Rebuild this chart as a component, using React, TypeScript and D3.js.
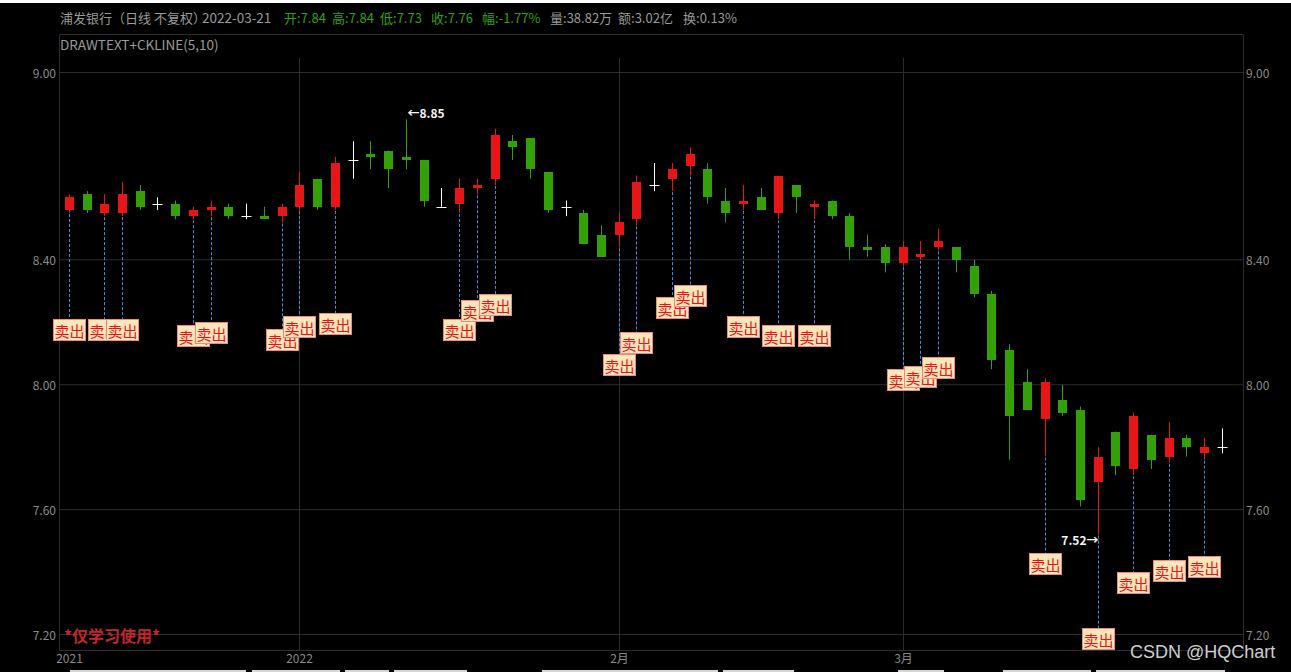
import * as d3 from "d3";
import React, { useEffect } from "react";

// header info (bar under cursor)
const stockName = "浦发银行（日线 不复权）";
const barDate = "2022-03-21";
const infoLabels = ["开", "高", "低", "收", "幅", "量", "额", "换"];
const infoValues = ["7.84", "7.84", "7.73", "7.76", "-1.77%", "38.82万", "3.02亿", "0.13%"];
const indicatorTitle = "DRAWTEXT+CKLINE(5,10)";

// daily K line
const opens = [
  8.56, 8.61, 8.55, 8.55, 8.62, 8.58, 8.58, 8.54, 8.56, 8.57, 8.54, 8.54, 8.54, 8.57, 8.66, 8.57, 8.72,
  8.74, 8.75, 8.73, 8.72, 8.57, 8.58, 8.63, 8.66, 8.78, 8.79, 8.68, 8.57, 8.55, 8.48, 8.48, 8.53, 8.64,
  8.66, 8.70, 8.69, 8.59, 8.58, 8.60, 8.55, 8.64, 8.57, 8.59, 8.54, 8.44, 8.44, 8.39, 8.41, 8.44, 8.44,
  8.38, 8.29, 8.11, 8.01, 7.89, 7.95, 7.92, 7.69, 7.85, 7.73, 7.84, 7.77, 7.83, 7.78, 7.80,
];
const highs = [
  8.61, 8.62, 8.61, 8.65, 8.64, 8.60, 8.59, 8.57, 8.59, 8.58, 8.58, 8.57, 8.58, 8.68, 8.66, 8.73, 8.78,
  8.78, 8.75, 8.85, 8.72, 8.63, 8.66, 8.66, 8.82, 8.80, 8.79, 8.68, 8.59, 8.56, 8.51, 8.55, 8.67, 8.71,
  8.71, 8.76, 8.71, 8.63, 8.64, 8.63, 8.67, 8.64, 8.59, 8.59, 8.55, 8.48, 8.45, 8.46, 8.46, 8.50, 8.44,
  8.40, 8.30, 8.13, 8.05, 8.02, 8.00, 7.93, 7.80, 7.85, 7.91, 7.84, 7.88, 7.84, 7.83, 7.86,
];
const lows = [
  8.55, 8.55, 8.54, 8.54, 8.56, 8.56, 8.53, 8.53, 8.54, 8.53, 8.53, 8.53, 8.52, 8.56, 8.56, 8.56, 8.66,
  8.69, 8.63, 8.69, 8.57, 8.57, 8.55, 8.61, 8.64, 8.72, 8.66, 8.55, 8.54, 8.45, 8.41, 8.44, 8.51, 8.62,
  8.62, 8.67, 8.58, 8.52, 8.56, 8.56, 8.53, 8.55, 8.53, 8.53, 8.40, 8.41, 8.36, 8.38, 8.40, 8.43, 8.36,
  8.28, 8.05, 7.76, 7.92, 7.77, 7.90, 7.61, 7.52, 7.71, 7.71, 7.73, 7.75, 7.77, 7.76, 7.78,
];
const closes = [
  8.60, 8.56, 8.58, 8.61, 8.57, 8.58, 8.54, 8.56, 8.57, 8.54, 8.54, 8.53, 8.57, 8.64, 8.57, 8.71, 8.72,
  8.73, 8.69, 8.72, 8.59, 8.57, 8.63, 8.64, 8.80, 8.76, 8.69, 8.56, 8.57, 8.45, 8.41, 8.52, 8.65, 8.64,
  8.69, 8.74, 8.60, 8.55, 8.59, 8.56, 8.67, 8.60, 8.58, 8.54, 8.44, 8.43, 8.39, 8.44, 8.42, 8.46, 8.40,
  8.29, 8.08, 7.90, 7.92, 8.01, 7.91, 7.63, 7.77, 7.74, 7.90, 7.76, 7.83, 7.80, 7.80, 7.80,
];

// DRAWTEXT "卖出" signals: bar index and the price where the text box sits
const sellBars = [0, 2, 3, 7, 8, 12, 13, 15, 22, 23, 24, 31, 32, 34, 35, 38, 40, 42, 47, 48, 49, 55, 58, 60, 62, 64];
const sellPrices = [
  8.21, 8.21, 8.21, 8.19, 8.2, 8.18, 8.22, 8.23, 8.21, 8.27, 8.29, 8.1, 8.17, 8.28, 8.32, 8.22, 8.19, 8.19,
  8.05, 8.06, 8.09, 7.46, 7.22, 7.4, 7.44, 7.45,
];
const sellText = "卖出";

const priceTicks = [9.0, 8.4, 8.0, 7.6, 7.2];
const dateTickBars = [0, 13, 31, 47];
const dateTickLabels = ["2021", "2022", "2月", "3月"];

const W = 1291;
const H = 672;
const left = 59.5;
const right = 1243.5;
const top = 34.5;
const bottom = 650.5;

const UP = "rgb(231,22,22)";
const DOWN = "rgb(52,160,8)";
const GRID = "#2c2c2c";
const AXIS_TEXT = "#8a8a8a";
const FONT = "'Microsoft YaHei','Noto Sans CJK SC',sans-serif";

// leftovers of the browser bar under the screenshot
const bottomStrips = [
  [70, 246], [252, 340], [345, 389], [394, 467], [542, 718], [723, 794], [898, 944], [1003, 1091], [1096, 1225],
];

const App = () => {
  useEffect(() => {
    document.body.style.margin = "0";
    document.body.style.background = "#000";
  }, []);

  const x = d3
    .scaleBand<number>()
    .domain(d3.range(opens.length))
    .range([60.4, 1231.3]);
  const y = d3.scaleLinear().domain([7.2, 9.0]).range([634.5, 72.5]);
  const cx = (i: number) => Math.floor((x(i) ?? 0) + x.bandwidth() / 2) + 0.5;

  const hiIdx = d3.maxIndex(highs);
  const loIdx = d3.minIndex(lows);

  const infoX = [284, 332, 380, 431, 482, 550, 618, 683];

  return (
    <svg width={W} height={H} style={{ display: "block", background: "#000" }} fontFamily={FONT}>
      <rect x={0} y={0} width={W} height={3} fill="#fff" />
      {bottomStrips.map(([a, b]) => (
        <rect key={a} x={a} y={670} width={b - a} height={2} fill="#d6d6d6" />
      ))}

      {/* header */}
      <g fontSize={13} dominantBaseline="central">
        <text x={60} y={17} fill="#9a9a9a">{stockName}</text>
        <text x={202} y={17} fill="#9a9a9a" fontSize={13.5}>{barDate}</text>
        {infoLabels.map((l, i) => (
          <text key={l} x={infoX[i]} y={17} fill={i < 5 ? DOWN : "#9a9a9a"}>
            {l}:{infoValues[i]}
          </text>
        ))}
      </g>

      {/* frame */}
      <g stroke={GRID} fill="none">
        <line x1={left} x2={right} y1={top} y2={top} />
        <line x1={left} x2={left} y1={top} y2={bottom} />
        <line x1={right} x2={right} y1={top} y2={bottom} />
        <line x1={left} x2={right} y1={bottom} y2={bottom} />
      </g>
      <text x={60} y={44} fontSize={13.5} fill="#9a9a9a" dominantBaseline="central">
        {indicatorTitle}
      </text>

      {/* grid + price axis */}
      {priceTicks.map((p) => (
        <g key={p}>
          <line x1={left} x2={right} y1={y(p)} y2={y(p)} stroke={GRID} />
          <text x={56} y={y(p)} fontSize={12} fill={AXIS_TEXT} textAnchor="end" dominantBaseline="central">
            {p.toFixed(2)}
          </text>
          <text x={1246} y={y(p)} fontSize={12} fill={AXIS_TEXT} dominantBaseline="central">
            {p.toFixed(2)}
          </text>
        </g>
      ))}
      {dateTickBars.map((b, i) => (
        <g key={b}>
          {i > 0 && <line x1={cx(b)} x2={cx(b)} y1={58} y2={bottom} stroke={GRID} />}
          <text x={cx(b)} y={657} fontSize={12} fill={AXIS_TEXT} textAnchor="middle" dominantBaseline="central">
            {dateTickLabels[i]}
          </text>
        </g>
      ))}

      {/* candles */}
      {opens.map((o, i) => {
        const c = closes[i];
        const color = c > o ? UP : c < o ? DOWN : "#fff";
        const xc = cx(i);
        const yTop = Math.round(y(Math.max(o, c)));
        const yBot = Math.round(y(Math.min(o, c)));
        return (
          <g key={i}>
            <line x1={xc} x2={xc} y1={y(highs[i])} y2={y(lows[i])} stroke={color} />
            {c === o ? (
              <line x1={xc - 5} x2={xc + 5} y1={yTop + 0.5} y2={yTop + 0.5} stroke={color} />
            ) : (
              <rect x={xc - 4.5} y={yTop} width={9} height={Math.max(1, yBot - yTop)} fill={color} />
            )}
          </g>
        );
      })}

      {/* sell signals */}
      {sellBars.map((b, k) => {
        const xc = cx(b);
        const yBox = Math.round(y(sellPrices[k]));
        return (
          <g key={b}>
            <line
              x1={xc}
              x2={xc}
              y1={y(lows[b]) + 1}
              y2={yBox}
              stroke="#3b8fec"
              strokeDasharray="3,2"
            />
            <rect x={xc - 16} y={yBox + 0.5} width={32} height={21} fill="#fde6b9" stroke="#f08a7e" />
            <text x={xc} y={yBox + 11.5} fontSize={15} fill="#e8141a" textAnchor="middle" dominantBaseline="central">
              {sellText}
            </text>
          </g>
        );
      })}

      {/* highest / lowest marks */}
      <text x={cx(hiIdx) + 1} y={y(highs[hiIdx]) - 7} fontSize={12} fill="#f4f4f4" fontWeight={600} dominantBaseline="central">
        {"←" + highs[hiIdx].toFixed(2)}
      </text>
      <text x={cx(loIdx)} y={y(lows[loIdx]) + 5} fontSize={12} fill="#f4f4f4" fontWeight={600} textAnchor="end" dominantBaseline="central">
        {lows[loIdx].toFixed(2) + "→"}
      </text>

      {/* watermarks */}
      <text x={64} y={635} fontSize={16} fontWeight="bold" fill="#c4262b" dominantBaseline="central">
        *仅学习使用*
      </text>
      <text x={1130} y={652} fontSize={18} fill="#cfcfcf" fontFamily="'Liberation Sans',Arial,sans-serif" dominantBaseline="central">
        CSDN @HQChart
      </text>
    </svg>
  );
};

export default App;
